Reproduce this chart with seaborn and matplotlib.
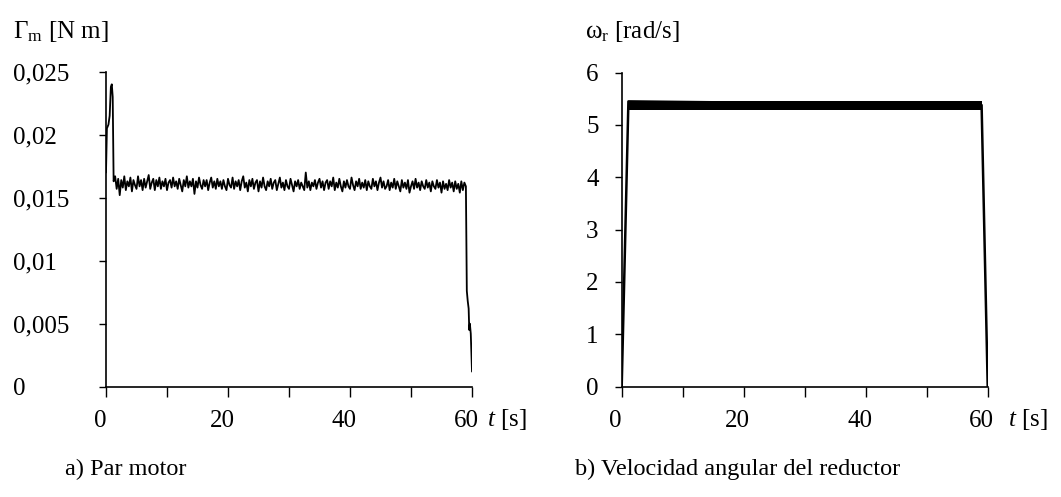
import matplotlib
matplotlib.use("Agg")
import matplotlib.pyplot as plt
from matplotlib.transforms import ScaledTranslation
import pandas as pd
import seaborn as sns

# ---------------------------------------------------------------------------
# Measured data
# ---------------------------------------------------------------------------
# Motor torque, start-up transient [s], [N m]
torque_start_t = [0.0, 0.15, 0.4, 0.6, 0.8, 0.95, 1.1, 1.25, 1.4]
torque_start = [0.0170, 0.0205, 0.0208, 0.0215, 0.0238, 0.0240, 0.0230, 0.0163, 0.0166]

# Motor torque, steady running [s], [N m]
torque_run_t = [
    1.5, 1.75, 2.0, 2.25, 2.5, 2.75, 3.0, 3.25, 3.5, 3.75,
    4.0, 4.25, 4.5, 4.75, 5.0, 5.25, 5.5, 5.75, 6.0, 6.25,
    6.5, 6.75, 7.0, 7.25, 7.5, 7.75, 8.0, 8.25, 8.5, 8.75,
    9.0, 9.25, 9.5, 9.75, 10.0, 10.25, 10.5, 10.75, 11.0, 11.25,
    11.5, 11.75, 12.0, 12.25, 12.5, 12.75, 13.0, 13.25, 13.5, 13.75,
    14.0, 14.25, 14.5, 14.75, 15.0, 15.25, 15.5, 15.75, 16.0, 16.25,
    16.5, 16.75, 17.0, 17.25, 17.5, 17.75, 18.0, 18.25, 18.5, 18.75,
    19.0, 19.25, 19.5, 19.75, 20.0, 20.25, 20.5, 20.75, 21.0, 21.25,
    21.5, 21.75, 22.0, 22.25, 22.5, 22.75, 23.0, 23.25, 23.5, 23.75,
    24.0, 24.25, 24.5, 24.75, 25.0, 25.25, 25.5, 25.75, 26.0, 26.25,
    26.5, 26.75, 27.0, 27.25, 27.5, 27.75, 28.0, 28.25, 28.5, 28.75,
    29.0, 29.25, 29.5, 29.75, 30.0, 30.25, 30.5, 30.75, 31.0, 31.25,
    31.5, 31.75, 32.0, 32.25, 32.5, 32.75, 33.0, 33.25, 33.5, 33.75,
    34.0, 34.25, 34.5, 34.75, 35.0, 35.25, 35.5, 35.75, 36.0, 36.25,
    36.5, 36.75, 37.0, 37.25, 37.5, 37.75, 38.0, 38.25, 38.5, 38.75,
    39.0, 39.25, 39.5, 39.75, 40.0, 40.25, 40.5, 40.75, 41.0, 41.25,
    41.5, 41.75, 42.0, 42.25, 42.5, 42.75, 43.0, 43.25, 43.5, 43.75,
    44.0, 44.25, 44.5, 44.75, 45.0, 45.25, 45.5, 45.75, 46.0, 46.25,
    46.5, 46.75, 47.0, 47.25, 47.5, 47.75, 48.0, 48.25, 48.5, 48.75,
    49.0, 49.25, 49.5, 49.75, 50.0, 50.25, 50.5, 50.75, 51.0, 51.25,
    51.5, 51.75, 52.0, 52.25, 52.5, 52.75, 53.0, 53.25, 53.5, 53.75,
    54.0, 54.25, 54.5, 54.75, 55.0, 55.25, 55.5, 55.75, 56.0, 56.25,
    56.5, 56.75, 57.0, 57.25, 57.5, 57.75, 58.0, 58.25, 58.5, 58.75,
    59.0,
]
torque_run = [
    0.0167, 0.0157, 0.0165, 0.0152, 0.0164, 0.0158, 0.0167, 0.0156, 0.0163, 0.0159,
    0.0166, 0.0155, 0.0164, 0.0160, 0.0157, 0.0167, 0.0159, 0.0164, 0.0156, 0.0165,
    0.0158, 0.0163, 0.0168, 0.0157, 0.0162, 0.0165, 0.0156, 0.0164, 0.0159, 0.0166,
    0.0157, 0.0163, 0.0159, 0.0165, 0.0156, 0.0162, 0.0164, 0.0158, 0.0166, 0.0159,
    0.0163, 0.0157, 0.0165, 0.0160, 0.0155, 0.0164, 0.0159, 0.0167, 0.0158, 0.0163,
    0.0159, 0.0165, 0.0153, 0.0163, 0.0158, 0.0166, 0.0160, 0.0157, 0.0164, 0.0159,
    0.0164, 0.0156, 0.0162, 0.0166, 0.0158, 0.0163, 0.0157, 0.0165, 0.0159, 0.0163,
    0.0157, 0.0164, 0.0159, 0.0156, 0.0165, 0.0160, 0.0158, 0.0166, 0.0157, 0.0163,
    0.0159, 0.0164, 0.0156, 0.0163, 0.0167, 0.0158, 0.0162, 0.0155, 0.0164, 0.0159,
    0.0165, 0.0157, 0.0162, 0.0164, 0.0155, 0.0163, 0.0158, 0.0166, 0.0159, 0.0156,
    0.0163, 0.0159, 0.0165, 0.0157, 0.0162, 0.0164, 0.0156, 0.0161, 0.0166, 0.0158,
    0.0162, 0.0156, 0.0164, 0.0159, 0.0157, 0.0165, 0.0160, 0.0155, 0.0163, 0.0159,
    0.0164, 0.0157, 0.0162, 0.0159, 0.0156, 0.0170, 0.0158, 0.0163, 0.0156, 0.0162,
    0.0159, 0.0164, 0.0157, 0.0162, 0.0165, 0.0158, 0.0163, 0.0156, 0.0162, 0.0164,
    0.0157, 0.0163, 0.0159, 0.0166, 0.0156, 0.0162, 0.0158, 0.0165, 0.0159, 0.0155,
    0.0163, 0.0158, 0.0164, 0.0159, 0.0157, 0.0166, 0.0160, 0.0156, 0.0163, 0.0159,
    0.0165, 0.0157, 0.0162, 0.0158, 0.0164, 0.0156, 0.0163, 0.0159, 0.0157, 0.0165,
    0.0159, 0.0163, 0.0156, 0.0162, 0.0166, 0.0158, 0.0163, 0.0157, 0.0159, 0.0164,
    0.0156, 0.0162, 0.0158, 0.0165, 0.0157, 0.0163, 0.0159, 0.0155, 0.0164, 0.0158,
    0.0162, 0.0157, 0.0164, 0.0154, 0.0159, 0.0163, 0.0157, 0.0165, 0.0158, 0.0162,
    0.0156, 0.0163, 0.0159, 0.0157, 0.0164, 0.0158, 0.0162, 0.0155, 0.0163, 0.0159,
    0.0157, 0.0164, 0.0158, 0.0162, 0.0154, 0.0163, 0.0157, 0.0161, 0.0156, 0.0164,
    0.0158, 0.0162, 0.0155, 0.0163, 0.0157, 0.0161, 0.0154, 0.0163, 0.0156, 0.0162,
    0.0159,
]

# Motor torque, switch-off [s], [N m]
torque_stop_t = [59.15, 59.3, 59.45, 59.55, 59.65, 59.8, 60.0]
torque_stop = [0.0076, 0.0068, 0.0062, 0.0045, 0.0050, 0.0042, 0.0012]

# Gearbox angular speed: ramp up and run-down [s], [rad/s]
omega_t = [0.0, 1.1, 59.0, 60.0]
omega = [0.0, 5.45, 5.38, 0.0]
# Envelope of the fast speed ripple while running [s], [rad/s]
ripple_t = [1.1, 59.0]
ripple_hi = [5.46, 5.46]
ripple_lo = [5.29, 5.29]

# Axis ticks and labels
time_ticks = [0, 20, 40, 60]
time_minor = [10, 30, 50]
torque_ticks = [0.0, 0.005, 0.01, 0.015, 0.02, 0.025]
torque_labels = ["0", "0,005", "0,01", "0,015", "0,02", "0,025"]
omega_ticks = [0, 1, 2, 3, 4, 5, 6]
omega_labels = ["0", "1", "2", "3", "4", "5", "6"]

# ---------------------------------------------------------------------------
# Style
# ---------------------------------------------------------------------------
sns.set_theme(style="ticks")
plt.rcParams["font.family"] = ["Liberation Serif", "DejaVu Serif"]
plt.rcParams["mathtext.fontset"] = "custom"
plt.rcParams["mathtext.rm"] = "Liberation Serif"
plt.rcParams["mathtext.it"] = "Liberation Serif:italic"
plt.rcParams["mathtext.bf"] = "Liberation Serif:bold"
plt.rcParams["axes.edgecolor"] = "black"
plt.rcParams["xtick.color"] = "black"
plt.rcParams["ytick.color"] = "black"
plt.rcParams["text.color"] = "black"

FS = 18
FS_CAP = 17.5
W, H = 1061, 497
fig = plt.figure(figsize=(W / 100, H / 100), dpi=100)
fig.patch.set_facecolor("white")


def px_axes(left, right, top, bottom):
    return fig.add_axes([left / W, 1 - bottom / H, (right - left) / W, (bottom - top) / H])


ax_a = px_axes(106, 472, 71.7, 386.7)
ax_b = px_axes(621.7, 987.7, 72.6, 386.7)

df_torque = pd.DataFrame({
    "t": torque_start_t + torque_run_t + torque_stop_t,
    "torque": torque_start + torque_run + torque_stop,
})
sns.lineplot(data=df_torque, x="t", y="torque", ax=ax_a, color="black",
             linewidth=1.3, estimator=None, sort=False)

df_omega = pd.DataFrame({"t": omega_t, "omega": omega})
sns.lineplot(data=df_omega, x="t", y="omega", ax=ax_b, color="black",
             linewidth=1.8, estimator=None, sort=False)
ax_b.fill_between(ripple_t, ripple_lo, ripple_hi, color="black", linewidth=0)


def style_axes(ax, yticks, ylabels, ylim, ypad):
    sns.despine(ax=ax)
    for side in ("left", "bottom"):
        ax.spines[side].set_linewidth(1.2)
        ax.spines[side].set_color("black")
    ax.set_facecolor("white")
    ax.set_xlim(0, 60)
    ax.set_ylim(*ylim)
    ax.set_xticks(time_ticks)
    ax.set_xticklabels([str(v) for v in time_ticks], fontsize=FS)
    ax.set_xticks(time_minor, minor=True)
    ax.set_yticks(yticks)
    ax.set_yticklabels(ylabels, fontsize=FS)
    ax.tick_params(axis="x", which="both", direction="out", length=7.2, width=1.0, pad=9.5)
    ax.tick_params(axis="y", which="both", direction="out", length=5.2, width=1.0, pad=ypad)
    ax.set_xlabel("")
    ax.set_ylabel("")
    for lab in ax.get_yticklabels():
        lab.set_horizontalalignment("left")
    shift = ScaledTranslation(-6 / 100, 0, fig.dpi_scale_trans)
    for lab in ax.get_xticklabels():
        lab.set_transform(lab.get_transform() + shift)


style_axes(ax_a, torque_ticks, torque_labels, (0, 0.025), 62)
style_axes(ax_b, omega_ticks, omega_labels, (0, 6), 20.5)

# Quantity labels above the vertical axes
fig.text(13 / W, 1 - 31 / H, r"$\Gamma_{\mathrm{m}}$ [N m]", fontsize=FS, ha="left", va="center")
fig.text(585 / W, 1 - 31 / H, r"$\mathrm{\omega}_{\mathrm{r}}$ [rad/s]", fontsize=FS, ha="left", va="center")

# Time labels next to the last tick
fig.text(487 / W, 1 - 420 / H, r"$t$ [s]", fontsize=FS, ha="left", va="center")
fig.text(1008 / W, 1 - 420 / H, r"$t$ [s]", fontsize=FS, ha="left", va="center")

# Panel captions
fig.text(65 / W, 1 - 469 / H, "a) Par motor", fontsize=FS_CAP, ha="left", va="center")
fig.text(575 / W, 1 - 469 / H, "b) Velocidad angular del reductor", fontsize=FS_CAP, ha="left", va="center")

fig.savefig("out.png", dpi=100, facecolor="white")
